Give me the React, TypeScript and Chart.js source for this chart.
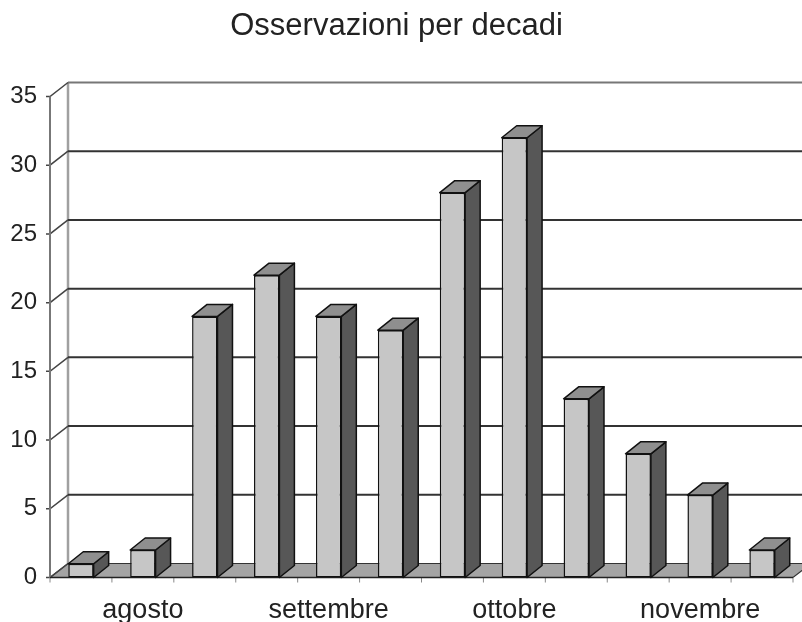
import React, { useEffect, useRef } from 'react';
import { Chart, registerables } from 'chart.js';

Chart.register(...registerables);

const titolo = 'Osservazioni per decadi';
const decadi = ['I ago', 'II ago', 'III ago', 'I set', 'II set', 'III set', 'I ott', 'II ott', 'III ott', 'I nov', 'II nov', 'III nov'];
const mesi = ['agosto', 'settembre', 'ottobre', 'novembre'];
const osservazioni = [1, 2, 19, 22, 19, 18, 28, 32, 13, 9, 6, 2];
const yMin = 0;
const yMax = 35;
const yStep = 5;

const FONT = "'Liberation Sans', Arial, Helvetica, sans-serif";
const WALL_DX = 18;
const WALL_DY = -14;
const BAR_DX = 15;
const BAR_DY = -12;

function seg(ctx: CanvasRenderingContext2D, pts: number[][]) {
  ctx.beginPath();
  ctx.moveTo(pts[0][0], pts[0][1]);
  for (let i = 1; i < pts.length; i++) ctx.lineTo(pts[i][0], pts[i][1]);
  ctx.stroke();
}

const threeD = {
  id: 'threeD',
  beforeDatasetsDraw(chart: any) {
    const { ctx, chartArea: a, scales } = chart;
    const ys = scales.y;
    const xs = scales.x;
    const b = ys.getPixelForValue(yMin);
    const t = ys.getPixelForValue(yMax);
    ctx.save();
    // floor
    ctx.beginPath();
    ctx.moveTo(a.left, b);
    ctx.lineTo(a.right, b);
    ctx.lineTo(a.right + WALL_DX, b + WALL_DY);
    ctx.lineTo(a.left + WALL_DX, b + WALL_DY);
    ctx.closePath();
    ctx.fillStyle = '#a4a4a4';
    ctx.fill();
    ctx.strokeStyle = '#333';
    ctx.lineWidth = 1.2;
    ctx.stroke();
    // back wall left edge
    ctx.strokeStyle = '#a0a0a0';
    ctx.lineWidth = 2.5;
    seg(ctx, [[a.left + WALL_DX, t + WALL_DY], [a.left + WALL_DX, b + WALL_DY]]);
    // grid lines and ticks
    for (let v = yMin; v <= yMax; v += yStep) {
      const py = ys.getPixelForValue(v);
      if (v > yMin) {
        ctx.strokeStyle = v === yMax ? '#777' : '#333';
        ctx.lineWidth = 2;
        seg(ctx, [[a.left + WALL_DX, py + WALL_DY], [chart.width + 20, py + WALL_DY]]);
      }
      ctx.strokeStyle = '#444';
      ctx.lineWidth = 1.5;
      seg(ctx, [[a.left - 4, py], [a.left, py], [a.left + WALL_DX, py + WALL_DY]]);
    }
    // front vertical axis
    ctx.strokeStyle = '#777';
    ctx.lineWidth = 2;
    seg(ctx, [[a.left, t], [a.left, b]]);
    // x ticks
    const n = decadi.length;
    const w = (xs.getPixelForTick(n - 1) - xs.getPixelForTick(0)) / (n - 1);
    ctx.strokeStyle = '#888';
    ctx.lineWidth = 1;
    for (let i = 0; i <= n; i++) {
      const px = xs.getPixelForTick(0) - w / 2 + i * w;
      seg(ctx, [[px, b], [px, b + 5]]);
    }
    // front edge
    ctx.strokeStyle = '#222';
    ctx.lineWidth = 1.6;
    seg(ctx, [[a.left, b], [a.right, b]]);
    ctx.restore();
  },
  afterDatasetsDraw(chart: any) {
    const { ctx } = chart;
    const meta = chart.getDatasetMeta(0);
    ctx.save();
    ctx.lineJoin = 'round';
    meta.data.forEach((bar: any) => {
      const { x, y, base, width } = bar.getProps(['x', 'y', 'base', 'width'], true);
      const l = x - width / 2;
      const r = x + width / 2;
      ctx.beginPath();
      ctx.moveTo(r, y);
      ctx.lineTo(r + BAR_DX, y + BAR_DY);
      ctx.lineTo(r + BAR_DX, base + BAR_DY);
      ctx.lineTo(r, base);
      ctx.closePath();
      ctx.fillStyle = '#575757';
      ctx.fill();
      ctx.strokeStyle = '#111';
      ctx.lineWidth = 1.5;
      ctx.stroke();
      ctx.beginPath();
      ctx.moveTo(l, y);
      ctx.lineTo(l + BAR_DX, y + BAR_DY);
      ctx.lineTo(r + BAR_DX, y + BAR_DY);
      ctx.lineTo(r, y);
      ctx.closePath();
      ctx.fillStyle = '#8f8f8f';
      ctx.fill();
      ctx.stroke();
    });
    ctx.restore();
  },
};

export default function App() {
  const ref = useRef<HTMLCanvasElement>(null);
  useEffect(() => {
    const chart = new Chart(ref.current as HTMLCanvasElement, {
      type: 'bar',
      data: {
        labels: decadi,
        datasets: [
          {
            data: osservazioni,
            backgroundColor: '#c6c6c6',
            borderColor: '#111',
            borderWidth: 1.5,
            borderSkipped: false,
            barPercentage: 0.41,
            categoryPercentage: 1.0,
          } as any,
        ],
      },
      options: {
        responsive: false,
        devicePixelRatio: 1,
        animation: false,
        layout: { padding: { left: 0, right: 9, top: 0, bottom: 0 } },
        plugins: {
          legend: { display: false },
          tooltip: { enabled: false },
          title: {
            display: true,
            text: titolo,
            color: '#222',
            font: { family: FONT, size: 31, weight: 'normal' as any },
            padding: { top: 8, bottom: 51.3 },
          },
        },
        scales: {
          x: {
            grid: { display: false, drawTicks: false },
            border: { display: false },
            ticks: {
              autoSkip: false,
              maxRotation: 0,
              minRotation: 0,
              color: '#222',
              padding: 17,
              font: { family: FONT, size: 27 },
              callback: (_v: any, i: number) => (i % 3 === 1 ? mesi[(i - 1) / 3] : ''),
            },
            afterFit: (s: any) => {
              s.height = 44.5;
              s.paddingLeft = 0;
              s.paddingRight = 0;
            },
          },
          y: {
            min: yMin,
            max: yMax,
            grid: { display: false, drawTicks: false },
            border: { display: false },
            ticks: {
              stepSize: yStep,
              color: '#222',
              padding: 13,
              font: { family: FONT, size: 24 },
            },
            afterFit: (s: any) => {
              s.width = 50;
              s.paddingTop = 0;
              s.paddingBottom = 0;
            },
          },
        },
      },
      plugins: [threeD],
    });
    return () => chart.destroy();
  }, []);
  return (
    <div style={{ position: 'absolute', left: 0, top: 0, width: 802, height: 622, background: '#fff' }}>
      <canvas ref={ref} width={802} height={622} style={{ display: 'block', width: 802, height: 622 }} />
    </div>
  );
}
